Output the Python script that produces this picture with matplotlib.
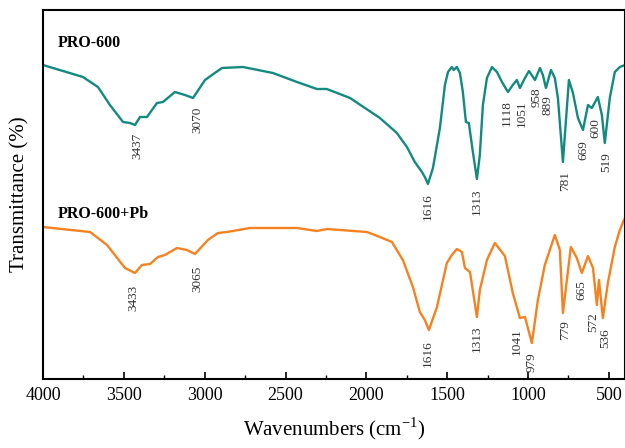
import matplotlib
matplotlib.use('Agg')
import matplotlib.pyplot as plt
from matplotlib.ticker import MultipleLocator

plt.rcParams['font.family'] = ['Liberation Serif', 'DejaVu Serif']

# PRO-600 spectrum (arbitrary transmittance units)
wn_a = [4000, 3753, 3660, 3586, 3505, 3462, 3431, 3400, 3357, 3295, 3258, 3184,
        3122, 3072, 2998, 2955, 2893, 2763, 2578, 2429, 2306, 2244, 2101, 1916,
        1811, 1749, 1700, 1656, 1638, 1619, 1588, 1545, 1514, 1495, 1471, 1459,
        1440, 1421, 1403, 1384, 1366, 1341, 1316, 1298, 1279, 1254, 1223, 1192,
        1161, 1124, 1094, 1069, 1050, 1019, 994, 957, 926, 908, 889, 858,
        834, 815, 784, 766, 747, 722, 691, 660, 629, 605, 568, 543,
        525, 494, 463, 432, 400]
tr_a = [314, 302, 292, 274, 257, 256, 254, 262, 262, 276, 277, 287,
        284, 281, 299, 304, 311, 312, 306, 297, 290, 290, 281, 261,
        246, 232, 217, 207, 202, 195, 211, 251, 294, 307, 312, 309,
        312, 306, 287, 257, 256, 227, 200, 224, 274, 301, 312, 307,
        297, 287, 294, 299, 291, 301, 308, 299, 311, 304, 291, 309,
        301, 281, 217, 257, 299, 286, 261, 249, 274, 271, 282, 264,
        236, 281, 307, 312, 314]

# PRO-600+Pb spectrum
wn_b = [4000, 3709, 3604, 3493, 3431, 3388, 3338, 3289, 3246, 3171, 3110, 3060,
        2980, 2918, 2862, 2720, 2429, 2306, 2244, 1996, 1916, 1842, 1774, 1712,
        1669, 1638, 1613, 1563, 1502, 1471, 1440, 1409, 1390, 1359, 1316, 1298,
        1254, 1205, 1143, 1094, 1050, 1019, 976, 939, 896, 834, 803, 784,
        735, 698, 667, 629, 598, 574, 561, 537, 506, 463, 432, 412, 400]
tr_b = [152, 147, 134, 111, 106, 114, 115, 122, 124, 131, 129, 125,
        139, 146, 147, 151, 151, 148, 150, 147, 142, 137, 119, 92,
        67, 59, 49, 72, 116, 124, 130, 127, 111, 107, 62, 89,
        119, 136, 123, 86, 61, 62, 36, 79, 114, 144, 129, 66,
        132, 121, 106, 123, 111, 74, 99, 61, 96, 132, 149, 157, 161]

# peak labels: text, x position, y position (top of text)
lab_a = ['3437', '3070', '1616', '1313', '1118', '1051', '958', '889', '781', '669', '600', '519']
lab_a_x = [3419, 3048, 1619, 1316, 1130, 1038, 945, 877, 772, 660, 586, 518]
lab_a_y = [246, 272, 186, 191, 279, 279, 292, 284, 208, 239, 261, 227]
lab_b = ['3433', '3065', '1616', '1313', '1041', '979', '779', '665', '572', '536']
lab_b_x = [3443, 3048, 1619, 1316, 1069, 976, 772, 667, 599, 525]
lab_b_y = [94, 113, 39, 54, 51, 27, 59, 99, 67, 51]

fig = plt.figure(figsize=(6.25, 4.48), dpi=100)
ax = fig.add_axes([43/625, 1-379/448, (625-43)/625, 369/448])
ax.plot(wn_a, tr_a, color='#138a80', lw=1.7, solid_joinstyle='round')
ax.plot(wn_b, tr_b, color='#f58220', lw=1.7, solid_joinstyle='round')
for t, x, y in zip(lab_a, lab_a_x, lab_a_y):
    ax.text(x, y, t, rotation=90, ha='center', va='top', fontsize=9.5, color='#333333')
for t, x, y in zip(lab_b, lab_b_x, lab_b_y):
    ax.text(x, y, t, rotation=90, ha='center', va='top', fontsize=9.5, color='#333333')
ax.text(0.026, 0.9, 'PRO-600', transform=ax.transAxes, fontsize=11.5, fontweight='bold')
ax.text(0.026, 0.435, 'PRO-600+Pb', transform=ax.transAxes, fontsize=11.5, fontweight='bold')

ax.set_xlim(4000, 400)
ax.set_ylim(0, 369)
ax.xaxis.set_major_locator(MultipleLocator(500))
ax.xaxis.set_minor_locator(MultipleLocator(250))
ax.tick_params(axis='x', which='major', direction='in', length=5, width=1.2, labelsize=13, pad=6)
ax.tick_params(axis='x', which='minor', direction='in', length=3, width=1.0)
ax.set_yticks([])
for s in ax.spines.values():
    s.set_linewidth(1.5)
ax.set_xlabel(r'Wavenumbers (cm$^{\mathregular{-1}}$)', fontsize=15, labelpad=8)
ax.set_ylabel('Transmittance (%)', fontsize=15, labelpad=10)
fig.savefig('out.png', dpi=100)
